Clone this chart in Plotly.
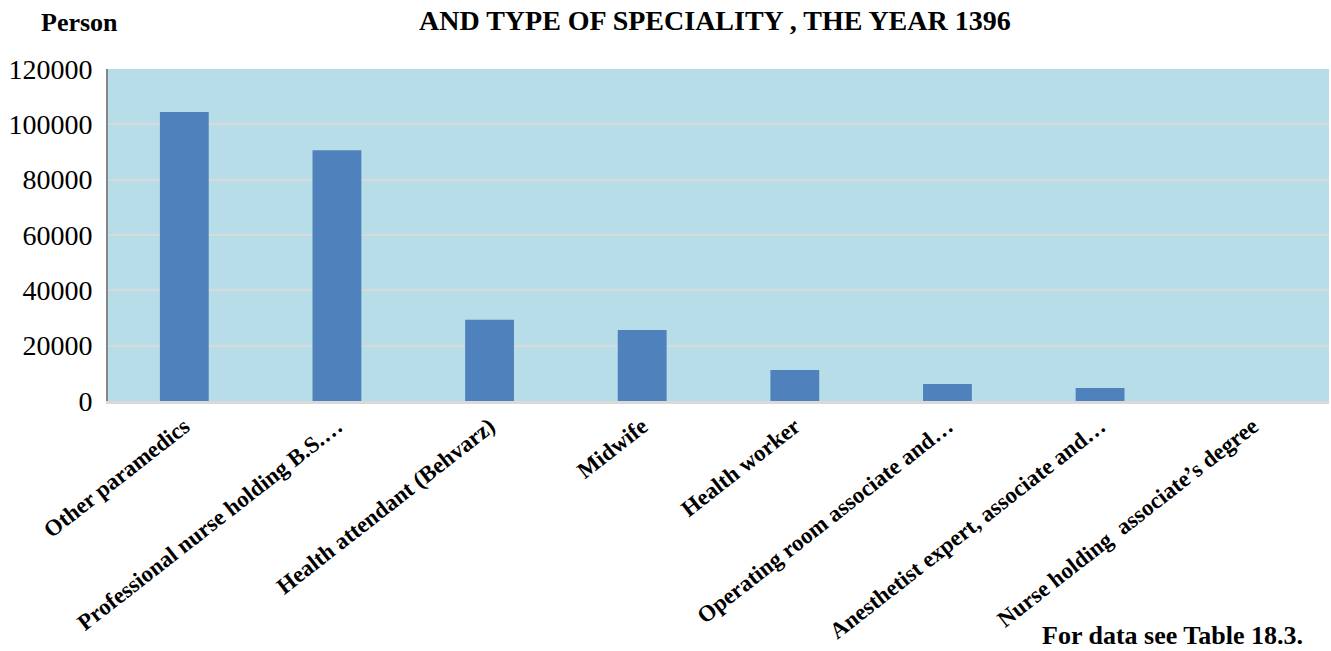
import plotly.graph_objects as go

categories = [
    "Other paramedics",
    "Professional nurse holding B.S.\u2026",
    "Health attendant (Behvarz)",
    "Midwife",
    "Health worker",
    "Operating room associate and\u2026",
    "Anesthetist expert, associate and\u2026",
    "Nurse holding  associate\u2019s degree",
]
values = [104500, 90600, 29400, 25700, 11200, 6100, 4700, 0]
y_ticks = [0, 20000, 40000, 60000, 80000, 100000, 120000]

W, H = 1331, 651
L, R, T, B = 108, 2, 69, 250
pw, ph = W - L - R, H - T - B

def px_x(x):
    return (x - L) / pw

def px_y(y):
    return (H - B - y) / ph

fig = go.Figure(go.Bar(
    x=categories, y=values,
    marker=dict(color="#4f81bd", line=dict(width=0)),
))

serif = "Liberation Serif, Times New Roman, serif"

fig.update_layout(
    width=W, height=H,
    margin=dict(l=L, r=R, t=T, b=B, autoexpand=False),
    paper_bgcolor="white",
    plot_bgcolor="#b7dde8",
    bargap=0.68,
    showlegend=False,
    font=dict(family=serif, color="black"),
)
fig.update_yaxes(
    range=[0, 120000], tickvals=y_ticks, tickformat="d",
    gridcolor="#d9d9d9", gridwidth=2,
    showline=True, linecolor="#868686", linewidth=2,
    zeroline=False,
    tickfont=dict(family=serif, size=28, color="black"),
    ticklabelstandoff=8,
)
fig.update_xaxes(
    showline=True, linecolor="#d9d9d9", linewidth=3,
    tickangle=-38,
    tickfont=dict(family=serif, size=23, color="black", weight="bold"),
)

fig.add_annotation(
    text="AND TYPE OF SPECIALITY , THE YEAR 1396",
    xref="paper", yref="paper", x=px_x(715), y=px_y(21),
    xanchor="center", yanchor="middle", showarrow=False,
    font=dict(family=serif, size=28, color="black", weight="bold"),
)
fig.add_annotation(
    text="Person",
    xref="paper", yref="paper", x=px_x(39), y=px_y(22),
    xanchor="left", yanchor="middle", showarrow=False,
    font=dict(family=serif, size=26, color="black", weight="bold"),
)
fig.add_annotation(
    text="For data see Table 18.3.",
    xref="paper", yref="paper", x=px_x(1040), y=px_y(619),
    xanchor="left", yanchor="top", showarrow=False,
    font=dict(family=serif, size=26, color="black", weight="bold"),
)

fig.write_html(
    "out.html",
    config={"displayModeBar": False},
    post_script="document.body.style.margin='0';document.body.style.overflow='hidden';",
)
